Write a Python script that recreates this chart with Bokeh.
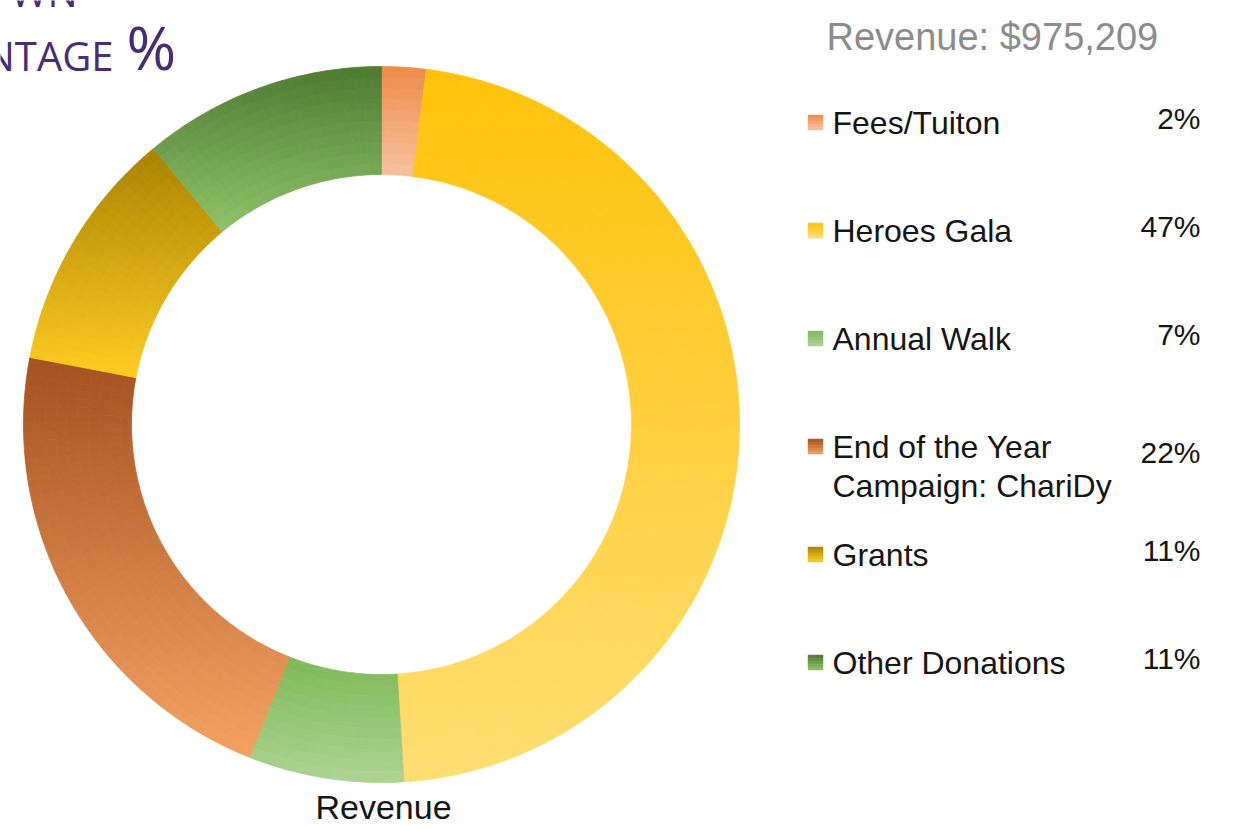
import math
import numpy as np
from bokeh.plotting import figure
from bokeh.models import Range1d, ColumnDataSource
from bokeh.embed import file_html
from bokeh.resources import INLINE
from bokeh.core.properties import value

# ---------------- data ----------------
categories = ["Fees/Tuiton", "Heroes Gala", "Annual Walk",
              "End of the Year\nCampaign: ChariDy", "Grants", "Other Donations"]
shares = [2, 47, 7, 22, 11, 11]
pct_labels = ["2%", "47%", "7%", "22%", "11%", "11%"]
revenue_title = "Revenue: $975,209"
series_name = "Revenue"
heading_fragments = ["WN", "NTAGE"]
heading_symbol = "%"
top_colors = ["#EE8A48", "#FFC20A", "#7DB856", "#A4521E", "#A98300", "#4E7A31"]
bottom_colors = ["#F6C3A0", "#FFDE72", "#AED494", "#F4A262", "#FFCC22", "#8FC46A"]

# ---------------- layout ----------------
W, H = 1245, 829
X0, Y0 = 0, 0            # reference pixel shown at figure top-left
CX, CY = 381, 424        # donut centre (px)
R_OUT, R_IN = 358, 250

FONT = value("Liberation Sans")


def hex2rgb(h):
    h = h.lstrip("#")
    return tuple(int(h[i:i + 2], 16) for i in (0, 2, 4))


def lerp(c0, c1, f):
    a, b = hex2rgb(c0), hex2rgb(c1)
    f = min(max(f, 0.0), 1.0)
    return "#%02x%02x%02x" % tuple(int(round(a[i] + (b[i] - a[i]) * f)) for i in range(3))


p = figure(width=W, height=H,
           x_range=Range1d(X0, X0 + W), y_range=Range1d(-(Y0 + H), -Y0),
           output_backend="svg", toolbar_location=None, min_border=0,
           x_axis_location=None, y_axis_location=None)
p.grid.visible = False
p.outline_line_color = None
p.background_fill_color = "white"
p.border_fill_color = "white"

# ---------------- donut with vertical gradients ----------------
fr = np.cumsum([0] + shares) / float(sum(shares))
cells = dict(x=[], y=[], ri=[], ro=[], sa=[], ea=[], c=[])
NR = 10
for i in range(len(shares)):
    t0, t1 = fr[i] * 2 * math.pi, fr[i + 1] * 2 * math.pi
    th = np.linspace(t0, t1, 300)
    yy = np.concatenate([-CY + R_OUT * np.cos(th), -CY + R_IN * np.cos(th)])
    ytop, ybot = yy.max(), yy.min()
    na = max(3, int(math.ceil((t1 - t0) / math.radians(1.5))))
    for a in range(na):
        ta = t0 + (t1 - t0) * a / na
        tb = t0 + (t1 - t0) * (a + 1) / na
        for k in range(NR):
            ra = R_IN + (R_OUT - R_IN) * k / NR
            rb = R_IN + (R_OUT - R_IN) * (k + 1) / NR
            tm, rm = (ta + tb) / 2, (ra + rb) / 2
            ym = -CY + rm * math.cos(tm)
            f = (ytop - ym) / (ytop - ybot)
            cells["x"].append(CX)
            cells["y"].append(-CY)
            cells["ri"].append(ra)
            cells["ro"].append(rb)
            cells["sa"].append(math.pi / 2 - ta)
            cells["ea"].append(math.pi / 2 - tb)
            cells["c"].append(lerp(top_colors[i], bottom_colors[i], f))

src = ColumnDataSource(cells)
p.annular_wedge(x="x", y="y", inner_radius="ri", outer_radius="ro",
                start_angle="sa", end_angle="ea", direction="clock",
                fill_color="c", line_color="c", line_width=0.8, source=src)

# ---------------- legend ----------------
ROW0, ROW_STEP, LINE_STEP = 122, 108, 39
SQ_X, SQ = 815, 15
LBL_X, PCT_X = 832, 1200
lbl = dict(x=[], y=[], t=[])
pct = dict(x=[], y=[], t=[])
for i, name in enumerate(categories):
    ry = ROW0 + ROW_STEP * i
    lines = name.split("\n")
    for j, ln in enumerate(lines):
        lbl["x"].append(LBL_X)
        lbl["y"].append(-(ry + j * LINE_STEP))
        lbl["t"].append(ln)
    pct["x"].append(PCT_X)
    pct["y"].append(-(ry - 4 + (len(lines) - 1) * 10))
    pct["t"].append(pct_labels[i])
    # gradient square
    n = 5
    for s in range(n):
        ya = ry - SQ / 2 + SQ * s / n
        yb = ry - SQ / 2 + SQ * (s + 1) / n
        col = lerp(top_colors[i], bottom_colors[i], (s + 0.5) / n)
        p.quad(left=SQ_X - SQ / 2, right=SQ_X + SQ / 2, top=-ya, bottom=-yb,
               fill_color=col, line_color=col, line_width=0.5)

p.text(x="x", y="y", text="t", source=ColumnDataSource(lbl),
       text_font=FONT, text_font_size="32px", text_color="#151515",
       text_baseline="middle", text_align="left")
p.text(x="x", y="y", text="t", source=ColumnDataSource(pct),
       text_font=FONT, text_font_size="30px", text_color="#151515",
       text_baseline="middle", text_align="right")

# legend title
p.text(x=[826], y=[-36], text=[revenue_title], text_font=FONT,
       text_font_size="38px", text_color="#8c8c8c",
       text_baseline="middle", text_align="left")

# series label under donut
p.text(x=[383], y=[-806], text=[series_name], text_font=FONT,
       text_font_size="34px", text_color="#151515",
       text_baseline="middle", text_align="center")

# clipped heading at top-left (cut off by the edge, as in the source)
p.text(x=[77], y=[9], text=[heading_fragments[0]], text_font=value("Open Sans"),
       text_font_size="40px", text_color="#4b2b74",
       text_baseline="middle", text_align="right")
p.text(x=[113], y=[-55], text=[heading_fragments[1]], text_font=value("Open Sans"),
       text_font_size="40px", text_color="#4b2b74",
       text_baseline="middle", text_align="right")
p.text(x=[126], y=[-46], text=[heading_symbol], text_font=value("Open Sans"),
       text_font_size="60px", text_color="#4b2b74",
       text_baseline="middle", text_align="left")

open("out.html", "w").write(file_html(p, INLINE))
